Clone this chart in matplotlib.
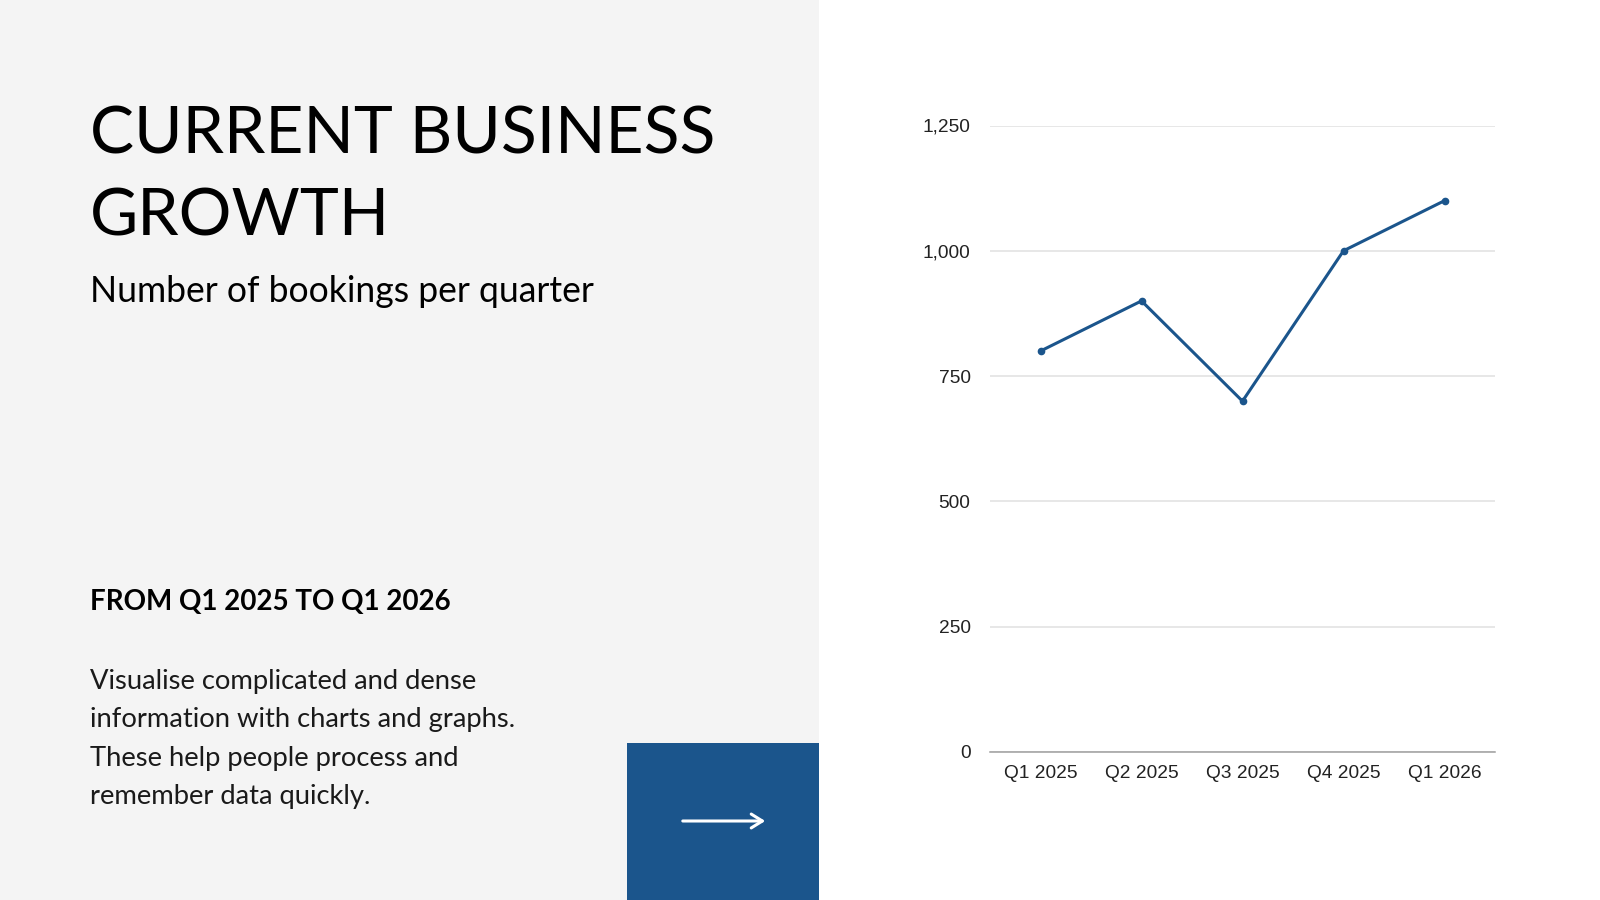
import matplotlib.pyplot as plt
from matplotlib.patches import Rectangle, FancyArrowPatch
from matplotlib.ticker import FuncFormatter

quarters = ['Q1 2025', 'Q2 2025', 'Q3 2025', 'Q4 2025', 'Q1 2026']
bookings = [800, 900, 700, 1000, 1100]
yticks = [0, 250, 500, 750, 1000, 1250]

BLUE = '#1b558c'
PANEL = '#f4f4f4'

plt.rcParams['font.family'] = ['Lato', 'DejaVu Sans']

fig = plt.figure(figsize=(16, 9), dpi=100)
fig.patch.set_facecolor('white')

# left grey panel and blue box
fig.add_artist(Rectangle((0, 0), 819 / 1600, 1, transform=fig.transFigure,
                         facecolor=PANEL, edgecolor='none', zorder=0))
fig.add_artist(Rectangle((627 / 1600, 0), (819 - 627) / 1600, (900 - 743) / 900,
                         transform=fig.transFigure, facecolor=BLUE, edgecolor='none', zorder=1))
fig.add_artist(FancyArrowPatch((680 / 1600, 1 - 821 / 900), (768 / 1600, 1 - 821 / 900),
                               transform=fig.transFigure, arrowstyle='->,head_length=8,head_width=5',
                               color='white', lw=2.2, mutation_scale=1, zorder=2))

# text on the left
fig.text(90 / 1600, 1 - 153 / 900, 'CURRENT BUSINESS', fontsize=47.5, color='black', va='baseline')
fig.text(90 / 1600, 1 - 235 / 900, 'GROWTH', fontsize=47.5, color='black', va='baseline')
fig.text(90 / 1600, 1 - 302 / 900, 'Number of bookings per quarter', fontsize=25.6, color='black', va='baseline')
fig.text(90 / 1600, 1 - 610 / 900, 'FROM Q1 2025 TO Q1 2026', fontsize=20, fontweight='bold',
         color='black', va='baseline')
para = ['Visualise complicated and dense', 'information with charts and graphs.',
        'These help people process and', 'remember data quickly.']
for i, line in enumerate(para):
    fig.text(90 / 1600, 1 - (689 + 38.3 * i) / 900, line, fontsize=19.7, color='#1a1a1a', va='baseline')

# chart
ax = fig.add_axes([990 / 1600, 1 - 752 / 900, (1495 - 990) / 1600, (752 - 125.5) / 900])
ax.set_facecolor('white')
x = range(len(quarters))
ax.plot(x, bookings, color=BLUE, lw=2.2, marker='o', markersize=4.5, zorder=3)
ax.set_xlim(-0.5, len(quarters) - 0.5)
ax.set_ylim(0, 1250)
ax.set_yticks(yticks)
ax.yaxis.set_major_formatter(FuncFormatter(lambda v, p: f'{int(v):,}'))
ax.set_xticks(list(x))
ax.set_xticklabels(quarters)
ax.grid(axis='y', color='#e0e0e0', lw=1.1)
ax.set_axisbelow(True)
for s in ['top', 'right', 'left']:
    ax.spines[s].set_visible(False)
ax.spines['bottom'].set_color('#9e9e9e')
ax.spines['bottom'].set_linewidth(1.1)
ax.tick_params(length=0, labelsize=13.8, colors='#222222')
ax.tick_params(axis='y', pad=14)
ax.tick_params(axis='x', pad=9)
for lab in ax.get_xticklabels() + ax.get_yticklabels():
    lab.set_family(['Liberation Sans', 'DejaVu Sans'])

fig.savefig('out.png', dpi=100, facecolor='white')
